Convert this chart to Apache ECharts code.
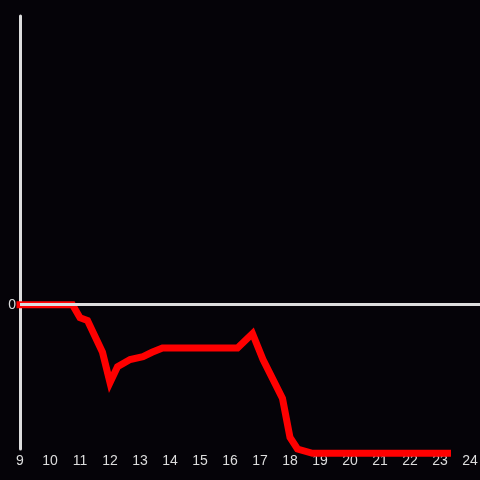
<!DOCTYPE html>
<html>
<head>
<meta charset="utf-8">
<script src="https://cdn.jsdelivr.net/npm/echarts@6/dist/echarts.min.js"></script>
<style>
  html, body { margin: 0; padding: 0; background: #050308; }
  #chart { width: 480px; height: 480px; }
</style>
</head>
<body>
<div id="chart"></div>
<script>
// hours of day (x) and value (y)
const hours = [9, 10.75, 11.0, 11.25, 11.75, 12.0, 12.25, 12.67, 13.1, 13.4, 13.75, 16.25, 16.75, 17.1, 17.75, 18.0, 18.25, 18.75, 23.25];
const values = [0, 0, -0.09, -0.11, -0.33, -0.54, -0.43, -0.38, -0.36, -0.33, -0.30, -0.30, -0.20, -0.38, -0.65, -0.92, -1.0, -1.03, -1.03];
const zeroLine = [0];

const points = hours.map((h, i) => [h, values[i]]);

const myChart = echarts.init(document.getElementById('chart'));
const option = {
  backgroundColor: '#050308',
  animation: false,
  grid: { left: 20, right: 0, top: 16, bottom: 31, containLabel: false, outerBoundsMode: 'none' },
  xAxis: {
    type: 'value',
    min: 9,
    max: 9 + 460 / 30,
    interval: 1,
    axisLine: { show: false },
    axisTick: { show: false },
    splitLine: { show: false },
    axisLabel: {
      color: '#dddddd',
      fontSize: 14,
      margin: 5,
      formatter: (v) => (Number.isInteger(v) ? String(v) : ''),
    },
  },
  yAxis: {
    type: 'value',
    min: -1,
    max: 2,
    interval: 1,
    axisLine: { show: true, onZero: false, lineStyle: { color: '#dddddd', width: 3 } },
    axisTick: { show: false },
    splitLine: { show: false },
    axisLabel: {
      color: '#dddddd',
      fontSize: 14,
      margin: 4,
      formatter: (v) => (v === 0 ? '0' : ''),
    },
  },
  series: [{
    type: 'line',
    data: [],
    z: 1,
    markLine: {
      silent: true,
      symbol: 'none',
      label: { show: false },
      lineStyle: { color: '#dddddd', width: 3, type: 'solid' },
      data: zeroLine.map((v) => ({ yAxis: v })),
    },
  }, {
    type: 'line',
    data: points,
    z: 3,
    clip: false,
    showSymbol: false,
    lineStyle: { color: '#ff0000', width: 7, cap: 'square', join: 'miter' },
  }],
};
myChart.setOption(option);
</script>
</body>
</html>
